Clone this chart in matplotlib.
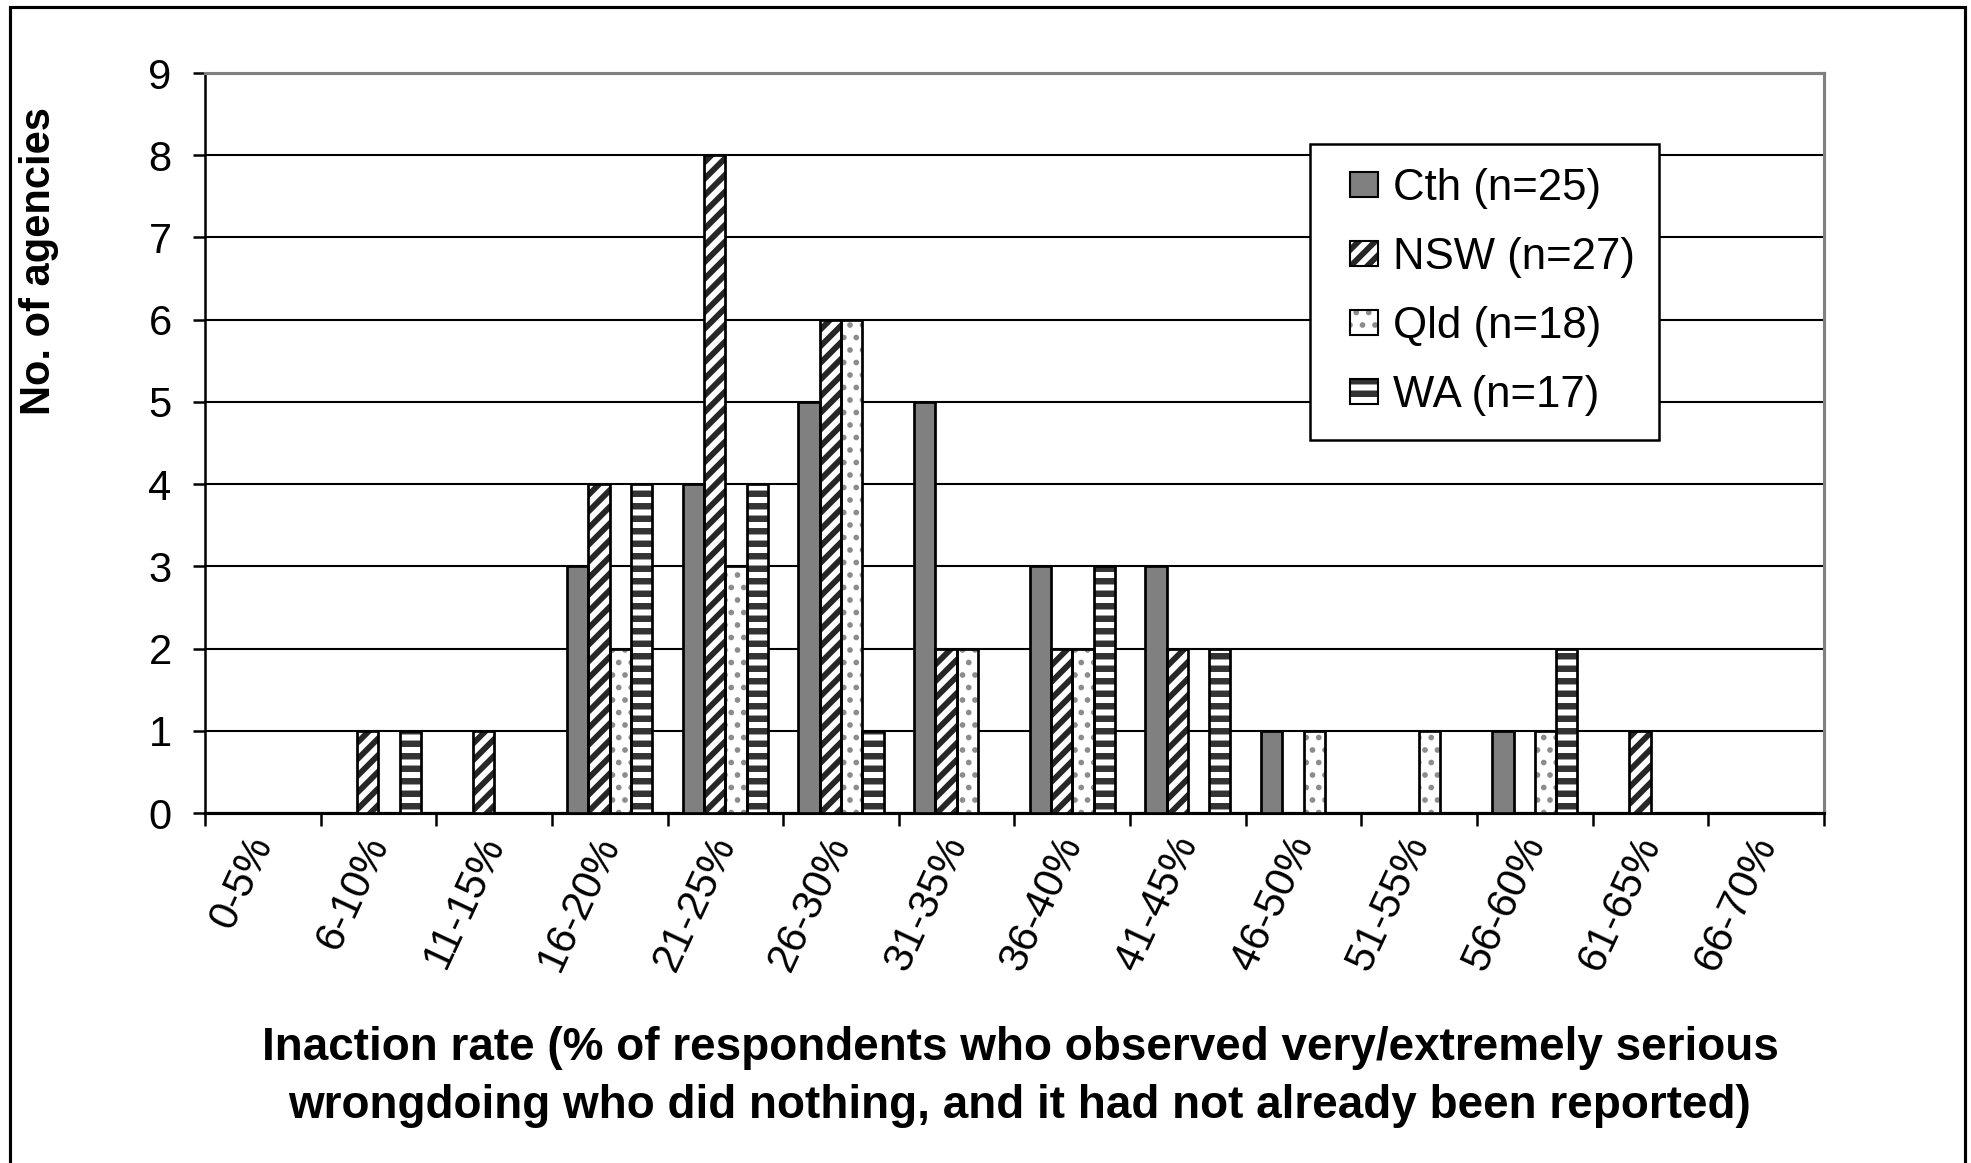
import matplotlib
matplotlib.use("Agg")
import matplotlib.pyplot as plt
from matplotlib.patches import Patch, Rectangle
from matplotlib.legend_handler import HandlerBase
from matplotlib.transforms import ScaledTranslation
import numpy as np

plt.rcParams['font.family'] = ['Liberation Sans', 'DejaVu Sans']

# inaction rate bands and agency counts per jurisdiction
bands = ["0-5%", "6-10%", "11-15%", "16-20%", "21-25%", "26-30%", "31-35%",
         "36-40%", "41-45%", "46-50%", "51-55%", "56-60%", "61-65%", "66-70%"]
cth = [0, 0, 0, 3, 4, 5, 5, 3, 3, 1, 0, 1, 0, 0]
nsw = [0, 1, 1, 4, 8, 6, 2, 2, 2, 0, 0, 0, 1, 0]
qld = [0, 0, 0, 2, 3, 6, 2, 2, 0, 1, 1, 1, 0, 0]
wa = [0, 1, 0, 4, 4, 1, 0, 3, 2, 0, 0, 2, 0, 0]
series_names = ["Cth (n=25)", "NSW (n=27)", "Qld (n=18)", "WA (n=17)"]

# fill, hatch, hatch colour, hatch width for each series
styles = [
    ("#808080", None, "#808080", 0),
    ("white", "///", "#262626", 2.8),
    ("white", "..", "#8c8c8c", 1.5),
    ("white", "--", "#333333", 3.1),
]


class BoxHandler(HandlerBase):
    # small square key drawn at the right of the handle box, outlined in black
    def create_artists(self, legend, orig_handle, xdescent, ydescent,
                       width, height, fontsize, trans):
        s, hh = 0.64 * fontsize, 0.57 * fontsize
        x0 = -xdescent + width - s
        y0 = -ydescent + (height - hh) / 2
        fill = Rectangle((x0, y0), s, hh, facecolor=orig_handle.get_facecolor(),
                         edgecolor=orig_handle.get_edgecolor(),
                         hatch=orig_handle.get_hatch(), linewidth=0, transform=trans)
        lw = getattr(orig_handle, "_hlw", 0)
        if lw and hasattr(fill, "set_hatch_linewidth"):
            fill.set_hatch_linewidth(lw)
        edge = Rectangle((x0, y0), s, hh, fill=False, edgecolor="black",
                         linewidth=1.0, transform=trans)
        return [fill, edge]


DPI = 150
fig = plt.figure(figsize=(1971 / DPI, 1163 / DPI), dpi=DPI)
ax = fig.add_axes([0.104, 0.3009, 0.8214, 0.6363])

x = np.arange(len(bands))
w = 0.184
offsets = (np.arange(4) - 1.5) * w
handles = []
for vals, off, (fc, hatch, hc, hlw), name in zip([cth, nsw, qld, wa], offsets, styles, series_names):
    if hatch:
        plt.rcParams['hatch.linewidth'] = hlw
        bars = ax.bar(x + off, vals, w, color=fc, edgecolor=hc, hatch=hatch,
                      linewidth=0, zorder=3)
        for b in bars:
            if hasattr(b, "set_hatch_linewidth"):
                b.set_hatch_linewidth(hlw)
    ax.bar(x + off, vals, w, color=fc if not hatch else "none",
           edgecolor="black", linewidth=1.3, zorder=4)
    h = Patch(facecolor=fc, edgecolor=hc, hatch=hatch, label=name)
    h._hlw = hlw
    handles.append(h)

ax.set_xlim(-0.5, len(bands) - 0.5)
ax.set_ylim(0, 9)
ax.set_yticks(range(10))
ax.yaxis.grid(True, color="black", linewidth=1.0, zorder=0)
ax.set_axisbelow(True)

ax.set_xticks(x)
ax.set_xticklabels(bands, rotation=65, ha="right", va="center",
                   rotation_mode="anchor", fontsize=20)
shift = ScaledTranslation(5 / 72, 0, fig.dpi_scale_trans)
for lbl in ax.get_xticklabels():
    lbl.set_transform(lbl.get_transform() + shift)
ax.set_xticks(np.arange(-0.5, len(bands)), minor=True)
ax.tick_params(axis="x", which="major", length=0, pad=12)
ax.tick_params(axis="x", which="minor", length=6, width=1.2, direction="out")
ax.tick_params(axis="y", length=6, width=1.2, direction="out", labelsize=20, pad=10)

for side in ("top", "right"):
    ax.spines[side].set_color("#808080")
    ax.spines[side].set_linewidth(1.5)
ax.spines["left"].set_linewidth(1.2)
ax.spines["bottom"].set_linewidth(1.5)

ax.set_ylabel("No. of agencies", fontsize=20, fontweight="bold")
ax.yaxis.set_label_coords(-0.090, 0.746)

fig.text(0.5175, 0.074,
         "Inaction rate (% of respondents who observed very/extremely serious\n"
         "wrongdoing who did nothing, and it had not already been reported)",
         ha="center", va="center", multialignment="center",
         fontsize=22, fontweight="bold", linespacing=1.42)

leg = ax.legend(handles=handles, handler_map={Patch: BoxHandler()},
                loc="upper left", bbox_to_anchor=(0.6825, 0.904),
                fontsize=21, frameon=True, fancybox=False, framealpha=1,
                edgecolor="black", handlelength=1.0, handleheight=0.7,
                handletextpad=0.34, labelspacing=0.64, borderpad=0.55,
                borderaxespad=0)
leg.get_frame().set_linewidth(1.2)
leg.set_zorder(10)

# outer chart border
fig.patches.append(Rectangle((0.0051, -0.02), 0.9919, 1.014, transform=fig.transFigure,
                             fill=False, edgecolor="black", linewidth=1.5))

fig.savefig("out.png", dpi=DPI)
